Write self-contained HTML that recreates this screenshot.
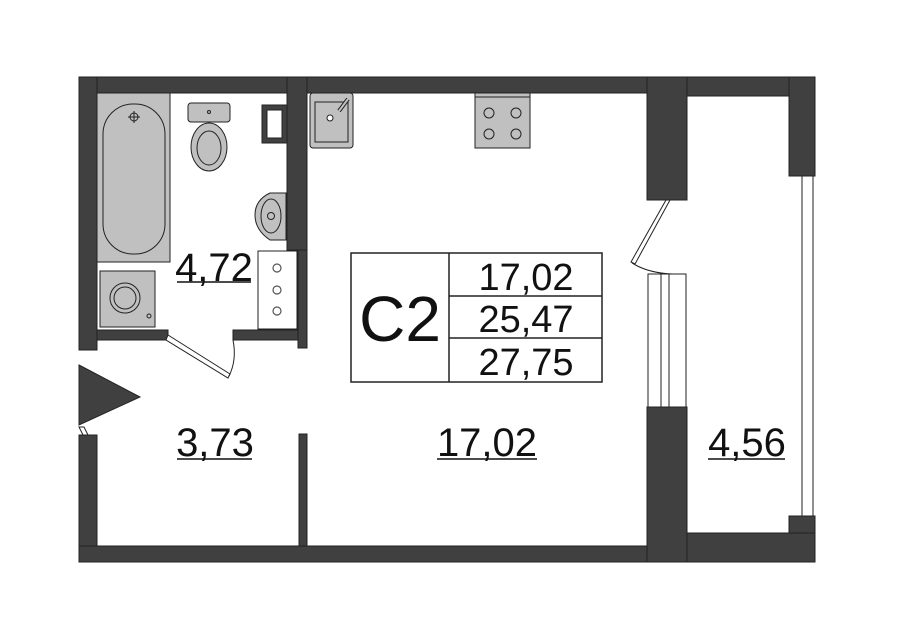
<!DOCTYPE html>
<html><head><meta charset="utf-8"><style>html,body{margin:0;padding:0;background:#fff}svg{display:block}</style></head>
<body>
<svg width="900" height="644" viewBox="0 0 900 644" xmlns="http://www.w3.org/2000/svg" font-family="Liberation Sans, sans-serif">
<g fill="#404040" stroke="#222" stroke-width="1">
<rect x="79" y="77" width="736" height="16"/>
<rect x="79" y="77" width="18" height="273"/>
<rect x="79" y="435" width="18" height="127"/>
<rect x="79" y="546" width="736" height="16"/>
<rect x="287" y="77" width="20" height="173"/>
<rect x="298" y="250" width="9" height="98"/>
<rect x="97" y="330" width="71" height="10"/>
<rect x="233" y="330" width="65" height="10"/>
<rect x="299" y="434" width="8" height="112"/>
<rect x="647" y="77" width="40" height="123"/>
<rect x="647" y="407" width="40" height="155"/>
<rect x="687" y="77" width="128" height="19"/>
<rect x="789" y="77" width="26" height="99"/>
<rect x="789" y="516" width="26" height="46"/>
<rect x="687" y="533" width="128" height="29"/>
<polygon points="79,365 140,397 79,425"/>
<rect x="262" y="105" width="25" height="38"/>
</g>
<rect x="267" y="110" width="15" height="28" fill="#fff" stroke="#222"/>
<rect x="802" y="176" width="11" height="340" fill="#fff" stroke="#222"/>
<g fill="none" stroke="#222" stroke-width="1">
<rect x="648" y="274" width="38" height="133"/>
<line x1="661" y1="274" x2="661" y2="407"/>
<line x1="669" y1="274" x2="669" y2="407"/>
<polygon points="670,200 666,200 631,262 635,264" fill="#fff"/>
<path d="M632,263 Q648,273 672,274"/>
<polygon points="168,335 230,374 228,378 166,340" fill="#fff"/>
<path d="M229,376 Q237,360 233,340"/>
<polygon points="79,427 84,427 88,435 83,435" fill="#fff"/>
</g>
<rect x="97" y="93" width="73" height="169" fill="#c0c0c0" stroke="#222"/>
<rect x="103" y="104" width="62" height="150" rx="30" fill="#c0c0c0" stroke="#222"/>
<circle cx="134" cy="117" r="4" fill="none" stroke="#222"/><line x1="128" y1="117" x2="140" y2="117" stroke="#222"/><line x1="134" y1="111" x2="134" y2="123" stroke="#222"/>
<rect x="188" y="103" width="42" height="19" rx="3" fill="#c0c0c0" stroke="#222"/>
<circle cx="209" cy="112" r="1.5" fill="none" stroke="#222"/>
<ellipse cx="209" cy="147" rx="18" ry="24" fill="#c0c0c0" stroke="#222"/>
<ellipse cx="209" cy="148" rx="12" ry="17" fill="#c0c0c0" stroke="#222"/>
<path d="M286,193 L270,193 Q255,200 255,215 Q255,230 270,240 L286,240 Z" fill="#c0c0c0" stroke="#222"/>
<ellipse cx="271" cy="216" rx="10" ry="17" fill="#c0c0c0" stroke="#222"/>
<circle cx="271" cy="216" r="3.5" fill="none" stroke="#222"/>
<rect x="258" y="251" width="39" height="78" fill="#fff" stroke="#222"/>
<g fill="none" stroke="#555" stroke-width="1.2"><circle cx="277" cy="268" r="4"/><circle cx="277" cy="290" r="4"/><circle cx="277" cy="311" r="4"/></g>
<rect x="100" y="271" width="55" height="56" fill="#c0c0c0" stroke="#222"/>
<circle cx="125" cy="298" r="15" fill="#c0c0c0" stroke="#222"/>
<circle cx="125" cy="298" r="11" fill="#c0c0c0" stroke="#222"/>
<circle cx="149" cy="316" r="2" fill="none" stroke="#222"/>
<rect x="310" y="93" width="43" height="55" rx="3" fill="#c0c0c0" stroke="#222"/>
<rect x="315" y="102" width="33" height="40" fill="#c0c0c0" stroke="#222"/>
<line x1="339" y1="111" x2="348" y2="99" stroke="#222" stroke-width="4"/><line x1="339" y1="111" x2="348" y2="99" stroke="#c0c0c0" stroke-width="2"/>
<circle cx="330" cy="118" r="3" fill="#fff" stroke="#222"/>
<rect x="475" y="93" width="55" height="55" fill="#c0c0c0" stroke="#222"/>
<line x1="475" y1="97" x2="530" y2="97" stroke="#222"/>
<g fill="none" stroke="#222"><circle cx="489" cy="113" r="5"/><circle cx="516" cy="113" r="5"/><circle cx="489" cy="134" r="5"/><circle cx="516" cy="134" r="5"/></g>
<g fill="none" stroke="#222" stroke-width="1.5">
<rect x="351" y="253" width="251" height="129"/>
<line x1="449" y1="253" x2="449" y2="382"/>
<line x1="449" y1="296" x2="602" y2="296"/>
<line x1="449" y1="338" x2="602" y2="338"/>
</g>
<g fill="#111" text-anchor="middle">
<text x="400" y="341" font-size="64">C2</text>
<text x="526" y="290" font-size="38">17,02</text>
<text x="526" y="332" font-size="38">25,47</text>
<text x="526" y="375" font-size="38">27,75</text>
<text x="214" y="281" font-size="40">4,72</text>
<text x="215" y="456" font-size="40">3,73</text>
<text x="487" y="456" font-size="40">17,02</text>
<text x="747" y="456" font-size="40">4,56</text>
</g>
<g stroke="#111" stroke-width="1.5">
<line x1="177" y1="282" x2="251" y2="282"/>
<line x1="177" y1="459" x2="252" y2="459"/>
<line x1="437" y1="459" x2="537" y2="459"/>
<line x1="708" y1="459" x2="785" y2="459"/>
</g>
</svg>
</body></html>
